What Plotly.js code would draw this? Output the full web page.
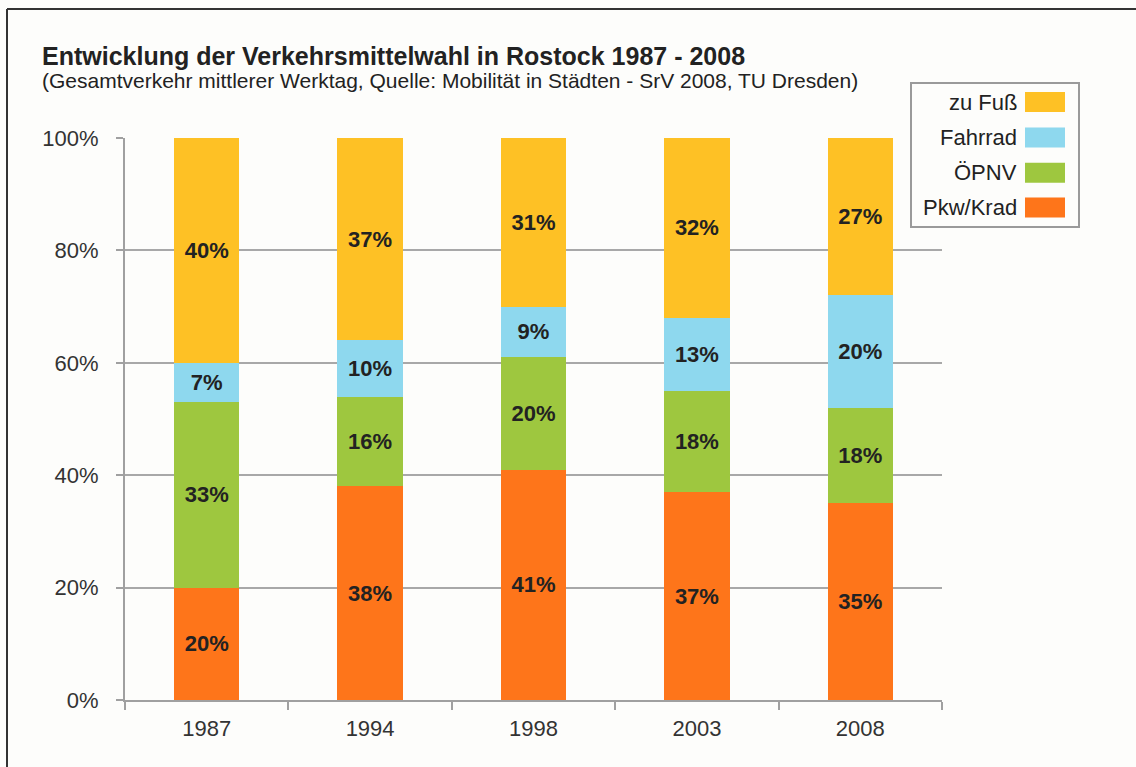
<!DOCTYPE html>
<html>
<head>
<meta charset="utf-8">
<script src="https://cdn.plot.ly/plotly-3.0.1.min.js"></script>
<style>
html,body{margin:0;padding:0;background:#fdfdfb;}
#chart{width:1136px;height:767px;}
</style>
</head>
<body>
<div id="chart"></div>
<script>
// ---- data ----
const years = ['1987', '1994', '1998', '2003', '2008'];
const seriesNames = ['Pkw/Krad', 'ÖPNV', 'Fahrrad', 'zu Fuß'];
const seriesColors = ['#fe751a', '#9ec73f', '#8ed8ee', '#fec125'];
// bar heights as drawn (percent)
const pkwValues     = [20, 38, 41, 37, 35];
const oepnvValues   = [33, 16, 20, 18, 17];
const fahrradValues = [7, 10, 9, 13, 20];
const fussValues    = [40, 36, 30, 32, 28];
// labels as printed (percent)
const pkwLabels     = [20, 38, 41, 37, 35];
const oepnvLabels   = [33, 16, 20, 18, 18];
const fahrradLabels = [7, 10, 9, 13, 20];
const fussLabels    = [40, 37, 31, 32, 27];
const yTickVals = [0, 20, 40, 60, 80, 100];

const titleText = 'Entwicklung der Verkehrsmittelwahl in Rostock 1987 - 2008';
const subtitleText = '(Gesamtverkehr mittlerer Werktag, Quelle: Mobilität in Städten - SrV 2008, TU Dresden)';

const FONT = 'Liberation Sans, Arial, sans-serif';
const values = [pkwValues, oepnvValues, fahrradValues, fussValues];
const labels = [pkwLabels, oepnvLabels, fahrradLabels, fussLabels];

// plot area in pixels
const L = 125, R = 942, T = 138, B = 700, W = 1136, H = 767;
const px = x => (x - L) / (R - L);
const py = y => (B - y) / (B - T);

const traces = seriesNames.map((name, i) => ({
  type: 'bar',
  name: name,
  x: years,
  y: values[i],
  text: labels[i].map(v => v + '%'),
  textposition: 'inside',
  insidetextanchor: 'middle',
  textangle: 0,
  constraintext: 'none',
  textfont: {family: FONT, size: 22, color: '#222222', weight: 'bold'},
  marker: {color: seriesColors[i], line: {width: 0}},
  hoverinfo: 'skip'
}));

const shapes = [];
const annotations = [];

// outer frame (left and top edges)
shapes.push({type: 'line', xref: 'paper', yref: 'paper',
  x0: px(7), x1: px(7), y0: py(H + 5), y1: py(9), line: {color: '#333333', width: 2}});
shapes.push({type: 'line', xref: 'paper', yref: 'paper',
  x0: px(7), x1: px(W + 5), y0: py(9), y1: py(9), line: {color: '#333333', width: 2}});

// title + subtitle
annotations.push({xref: 'paper', yref: 'paper', x: px(40), y: py(56), xanchor: 'left', yanchor: 'middle',
  text: '<b>' + titleText + '</b>', showarrow: false, font: {family: FONT, size: 25, color: '#222222'}});
annotations.push({xref: 'paper', yref: 'paper', x: px(40), y: py(80), xanchor: 'left', yanchor: 'middle',
  text: subtitleText, showarrow: false, font: {family: FONT, size: 21, color: '#222222'}});

// custom legend (text left of swatch, reversed order)
shapes.push({type: 'rect', xref: 'paper', yref: 'paper',
  x0: px(911), x1: px(1079), y0: py(83), y1: py(227),
  line: {color: '#9a9a9a', width: 2}, fillcolor: '#fdfdfb'});
const rowCenters = [102, 137.5, 172.7, 207.5];
for (let k = 0; k < seriesNames.length; k++) {
  const i = seriesNames.length - 1 - k;
  const cy = rowCenters[k];
  shapes.push({type: 'rect', xref: 'paper', yref: 'paper',
    x0: px(1025), x1: px(1065), y0: py(cy + 10), y1: py(cy - 10),
    line: {width: 0}, fillcolor: seriesColors[i]});
  annotations.push({xref: 'paper', yref: 'paper', x: px(1019), y: py(cy), xanchor: 'right', yanchor: 'middle',
    text: seriesNames[i], showarrow: false, font: {family: FONT, size: 22, color: '#222222'}});
}

const layout = {
  width: W, height: H,
  margin: {l: L, r: W - R, t: T, b: H - B, pad: 0},
  paper_bgcolor: '#fdfdfb',
  plot_bgcolor: '#fdfdfb',
  barmode: 'stack',
  bargap: 0.6,
  showlegend: false,
  font: {family: FONT, color: '#333333'},
  xaxis: {
    type: 'category',
    categoryorder: 'array', categoryarray: years,
    tickson: 'boundaries',
    ticks: 'outside', ticklen: 8, tickwidth: 2, tickcolor: '#a0a0a0',
    showline: true, linecolor: '#a0a0a0', linewidth: 2,
    showgrid: false, zeroline: false,
    tickfont: {family: FONT, size: 22, color: '#333333'},
    ticklabelstandoff: 8
  },
  yaxis: {
    range: [0, 100],
    tickvals: yTickVals,
    ticktext: yTickVals.map(v => v + '%'),
    ticks: 'outside', ticklen: 7, tickwidth: 2, tickcolor: '#a0a0a0',
    showline: true, linecolor: '#a0a0a0', linewidth: 2,
    showgrid: true, gridcolor: '#a8a8a8', gridwidth: 2,
    zeroline: false,
    tickfont: {family: FONT, size: 22, color: '#333333'},
    ticklabelstandoff: 13
  },
  shapes: shapes,
  annotations: annotations
};

Plotly.newPlot('chart', traces, layout, {displayModeBar: false, staticPlot: true});
</script>
</body>
</html>
